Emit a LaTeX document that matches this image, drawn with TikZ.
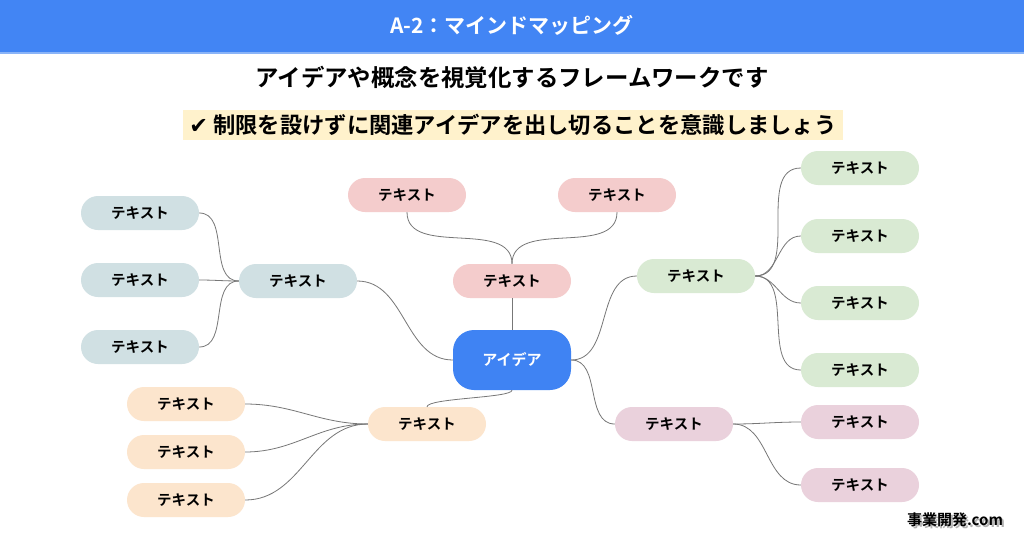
\documentclass[tikz,border=0pt]{standalone}
\usepackage{fontspec}
\setmainfont{Noto Sans CJK JP}[BoldFont={* Bold}]
\newfontfamily\symf{DejaVu Sans}
\definecolor{hdr}{HTML}{4285F4}
\definecolor{hdrline}{HTML}{8AB4F8}
\definecolor{ctr}{HTML}{3F83F3}
\definecolor{cpink}{HTML}{F4CCCC}
\definecolor{cblue}{HTML}{D0E0E3}
\definecolor{cgreen}{HTML}{D9EAD3}
\definecolor{cmauve}{HTML}{EAD1DC}
\definecolor{corange}{HTML}{FCE5CD}
\definecolor{hl}{HTML}{FFF2CC}
\definecolor{wire}{HTML}{777777}
\tikzset{
  pill/.style={rectangle, rounded corners=17pt, minimum width=118pt, minimum height=34pt, inner sep=0pt, font=\fontsize{14.5}{16}\selectfont\bfseries, text=black},
  center/.style={rectangle, rounded corners=21pt, fill=ctr, minimum width=118pt, minimum height=60pt, inner sep=0pt, font=\fontsize{15}{17}\selectfont\bfseries, text=white},
  wirestyle/.style={draw=wire, line width=0.8pt},
}
\begin{document}
\begin{tikzpicture}[x=1pt,y=-1pt]
\useasboundingbox (0,0) rectangle (1024,538);
\fill[white] (0,0) rectangle (1024,538);
% header
\fill[hdr] (0,0) rectangle (1024,52);
\fill[hdrline] (0,52) rectangle (1024,54);
\node[text=white, font=\fontsize{21}{23}\selectfont\bfseries] (title) at (512,25) {A-2：マインドマッピング};
\node[font=\fontsize{23.4}{25}\selectfont\bfseries] (sub) at (512,77) {アイデアや概念を視覚化するフレームワークです};
\fill[hl] (183,110) rectangle (843,140);
\node[font=\fontsize{22.3}{24}\selectfont\bfseries] (tip) at (513,125) {{\symf ✔} 制限を設けずに関連アイデアを出し切ることを意識しましょう};

% nodes
\node[center] (c) at (512,360) {アイデア};
\node[pill, fill=cpink] (pm) at (512,281) {テキスト};
\node[pill, fill=cpink] (pt1) at (407,195) {テキスト};
\node[pill, fill=cpink] (pt2) at (617,195) {テキスト};

\node[pill, fill=cblue] (lm) at (298,281) {テキスト};
\node[pill, fill=cblue] (l1) at (140,213) {テキスト};
\node[pill, fill=cblue] (l2) at (140,280) {テキスト};
\node[pill, fill=cblue] (l3) at (140,347) {テキスト};

\node[pill, fill=cgreen] (gm) at (696,276) {テキスト};
\node[pill, fill=cgreen] (g1) at (860,168) {テキスト};
\node[pill, fill=cgreen] (g2) at (860,236) {テキスト};
\node[pill, fill=cgreen] (g3) at (860,303) {テキスト};
\node[pill, fill=cgreen] (g4) at (860,370) {テキスト};

\node[pill, fill=cmauve] (mm) at (674,424) {テキスト};
\node[pill, fill=cmauve] (m1) at (860,422) {テキスト};
\node[pill, fill=cmauve] (m2) at (860,485) {テキスト};

\node[pill, fill=corange] (om) at (427,424) {テキスト};
\node[pill, fill=corange] (o1) at (186,404) {テキスト};
\node[pill, fill=corange] (o2) at (186,452) {テキスト};
\node[pill, fill=corange] (o3) at (186,500) {テキスト};

% connectors
\draw[wirestyle] (c.north) -- (pm.south);
\draw[wirestyle] (pt1.south) to[out=-90,in=90] (pm.north);
\draw[wirestyle] (pt2.south) to[out=-90,in=90] (pm.north);
\draw[wirestyle] (c.west) to[out=180,in=0] (lm.east);
\foreach \n in {l1,l2,l3} \draw[wirestyle] (lm.west) to[out=180,in=0] (\n.east);
\draw[wirestyle] (c.east) to[out=0,in=180] (gm.west);
\foreach \n in {g1,g2,g3,g4} \draw[wirestyle] (gm.east) to[out=0,in=180] (\n.west);
\draw[wirestyle] (c.east) to[out=0,in=180] (mm.west);
\foreach \n in {m1,m2} \draw[wirestyle] (mm.east) to[out=0,in=180] (\n.west);
\draw[wirestyle] (c.south) .. controls (512,398) and (427,398) .. (om.north);
\foreach \n in {o1,o2,o3} \draw[wirestyle] (om.west) to[out=180,in=0] (\n.east);

% watermark
\node[text=gray!60, font=\fontsize{15}{17}\selectfont\bfseries] at (957,522) {事業開発.com};
\node[text=black, font=\fontsize{15}{17}\selectfont\bfseries] (wm) at (955,520) {事業開発.com};
\end{tikzpicture}
\end{document}
